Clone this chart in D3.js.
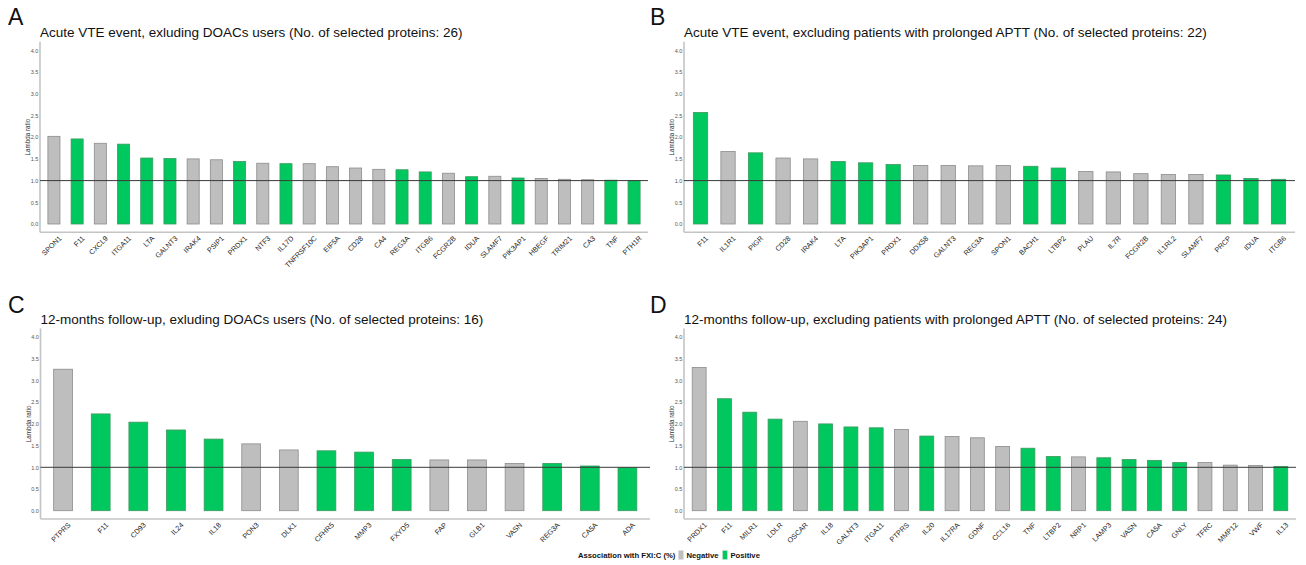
<!DOCTYPE html>
<html>
<head>
<meta charset="utf-8">
<script src="https://cdn.jsdelivr.net/npm/d3@7"></script>
<style>
  html, body { margin: 0; padding: 0; background: #fff; }
  svg { display: block; font-family: "Liberation Sans", Arial, sans-serif; }
</style>
</head>
<body>
<svg id="chart" width="1306" height="565"></svg>
<script>
// Panel A: acute VTE event, DOACs users excluded
const genesA = ["SPON1","F11","CXCL9","ITGA11","LTA","GALNT3","IRAK4","PSIP1","PRDX1","NTF3","IL17D","TNFRSF10C","EIF5A","CD28","CA4","REG3A","ITGB6","FCGR2B","IDUA","SLAMF7","PIK3AP1","HBEGF","TRIM21","CA3","TNF","PTH1R"];
const valuesA = [2.02,1.96,1.86,1.84,1.52,1.51,1.50,1.48,1.44,1.40,1.39,1.39,1.32,1.29,1.26,1.25,1.20,1.17,1.09,1.10,1.06,1.05,1.03,1.02,1.01,1.00];
const assocA = ["N","P","N","P","P","P","N","N","P","N","P","N","N","N","N","P","P","N","P","N","P","N","N","N","P","P"];

// Panel B: acute VTE event, prolonged APTT excluded
const genesB = ["F11","IL1R1","PIGR","CD28","IRAK4","LTA","PIK3AP1","PRDX1","DDX58","GALNT3","REG3A","SPON1","BACH1","LTBP2","PLAU","IL7R","FCGR2B","IL1RL2","SLAMF7","PRCP","IDUA","ITGB6"];
const valuesB = [2.57,1.67,1.64,1.52,1.50,1.44,1.41,1.37,1.35,1.35,1.34,1.35,1.33,1.29,1.21,1.20,1.16,1.14,1.14,1.13,1.05,1.03];
const assocB = ["P","N","P","N","N","P","P","P","N","N","N","N","P","P","N","N","N","N","N","P","P","P"];

// Panel C: 12-month follow-up, DOACs users excluded
const genesC = ["PTPRS","F11","CD93","IL24","IL18","PON3","DLK1","CFHR5","MMP3","FXYD5","FAP","GLB1","VASN","REG3A","CA5A","ADA"];
const valuesC = [3.26,2.23,2.04,1.86,1.65,1.54,1.40,1.38,1.35,1.18,1.17,1.17,1.09,1.09,1.03,0.99];
const assocC = ["N","P","P","P","P","N","N","P","P","P","N","N","N","P","P","P"];

// Panel D: 12-month follow-up, prolonged APTT excluded
const genesD = ["PRDX1","F11","MILR1","LDLR","OSCAR","IL18","GALNT3","ITGA11","PTPRS","IL20","IL17RA","GDNF","CCL16","TNF","LTBP2","NRP1","LAMP3","VASN","CA5A","GNLY","TFRC","MMP12","VWF","IL13"];
const valuesD = [3.30,2.58,2.27,2.11,2.06,2.00,1.93,1.91,1.87,1.72,1.71,1.68,1.48,1.44,1.25,1.24,1.22,1.18,1.16,1.11,1.11,1.05,1.04,1.02];
const assocD = ["N","P","P","P","N","P","P","P","N","P","N","N","N","P","P","N","P","P","P","P","N","N","N","P"];

const yTicks = [0.0, 0.5, 1.0, 1.5, 2.0, 2.5, 3.0, 3.5, 4.0];
const legendTitle = "Association with FXI:C (%)";
const legendKeys = [{key: "N", label: "Negative"}, {key: "P", label: "Positive"}];

const fillColor = {N: "#bebebe", P: "#00c85f"};
const strokeColor = {N: "#8c8c8c", P: "#3c9a5e"};

const panels = [
  {letter: "A", title: "Acute VTE event, exluding DOACs users (No. of selected proteins: 26)",
   genes: genesA, values: valuesA, assoc: assocA, x0: 40, x1: 648, y0: 224, barW: 0.52, letterX: 8, letterY: 25, titleY: 37},
  {letter: "B", title: "Acute VTE event, excluding patients with prolonged APTT (No. of selected proteins: 22)",
   genes: genesB, values: valuesB, assoc: assocB, x0: 684, x1: 1295, y0: 224, barW: 0.52, letterX: 650, letterY: 25, titleY: 37},
  {letter: "C", title: "12-months follow-up, exluding DOACs users (No. of selected proteins: 16)",
   genes: genesC, values: valuesC, assoc: assocC, x0: 40.5, x1: 650, y0: 510.7, barW: 0.5, letterX: 8, letterY: 313, titleY: 324},
  {letter: "D", title: "12-months follow-up, excluding patients with prolonged APTT (No. of selected proteins: 24)",
   genes: genesD, values: valuesD, assoc: assocD, x0: 684, x1: 1296, y0: 510.7, barW: 0.55, letterX: 650, letterY: 313, titleY: 324}
];

const svg = d3.select("#chart");
const unit = 43.4; // pixels per lambda-ratio unit

panels.forEach(p => {
  const g = svg.append("g");
  const n = p.genes.length;
  // discrete axis with 0.6-step expansion on each side
  const step = (p.x1 - p.x0) / (n - 1 + 1.2);
  const x = d3.scalePoint().domain(p.genes)
    .range([p.x0 + 0.6 * step, p.x1 - 0.6 * step]);
  const y = d3.scaleLinear().domain([0, 4]).range([p.y0, p.y0 - 4 * unit]);
  const bw = step * p.barW;

  // panel letter and title
  g.append("text").attr("x", p.letterX).attr("y", p.letterY)
    .attr("font-size", 23).attr("fill", "#111").text(p.letter);
  g.append("text").attr("x", p.x0).attr("y", p.titleY)
    .attr("font-size", 13.5).attr("fill", "#111").text(p.title);

  // axis lines
  g.append("line").attr("x1", p.x0).attr("x2", p.x0)
    .attr("y1", y(4.2)).attr("y2", y(-0.19))
    .attr("stroke", "#c4c4c4").attr("stroke-width", 1.6);
  g.append("line").attr("x1", p.x0).attr("x2", p.x1)
    .attr("y1", y(-0.19)).attr("y2", y(-0.19))
    .attr("stroke", "#c4c4c4").attr("stroke-width", 1.6);

  // y axis labels
  const yAxis = d3.axisLeft(y).tickValues(yTicks).tickFormat(d3.format(".1f")).tickSize(0).tickPadding(1.2);
  const ya = g.append("g").attr("transform", `translate(${p.x0 - 0.5},0)`).call(yAxis);
  ya.select(".domain").remove();
  ya.selectAll("text").attr("font-size", 5.5).attr("fill", "#555")
    .attr("font-family", "'Liberation Sans', Arial, sans-serif");

  g.append("text")
    .attr("transform", `translate(${p.x0 - 10},${y(2)}) rotate(-90)`)
    .attr("text-anchor", "middle").attr("font-size", 6.3).attr("fill", "#333")
    .text("Lambda ratio");

  // bars
  g.selectAll("rect.bar").data(p.genes).join("rect")
    .attr("class", "bar")
    .attr("x", d => x(d) - bw / 2)
    .attr("width", bw)
    .attr("y", (d, i) => y(p.values[i]))
    .attr("height", (d, i) => y(0) - y(p.values[i]))
    .attr("fill", (d, i) => fillColor[p.assoc[i]])
    .attr("stroke", (d, i) => strokeColor[p.assoc[i]])
    .attr("stroke-width", 0.8);

  // reference line at lambda ratio 1
  g.append("line").attr("x1", p.x0).attr("x2", p.x1)
    .attr("y1", y(1)).attr("y2", y(1))
    .attr("stroke", "#3a3a3a").attr("stroke-width", 1);

  // x axis labels
  const xAxis = d3.axisBottom(x).tickSize(0).tickPadding(0);
  const xa = g.append("g").attr("transform", `translate(0,${y(-0.19) + 3})`).call(xAxis);
  xa.select(".domain").remove();
  xa.selectAll("text")
    .attr("font-size", 7.2).attr("fill", "#222")
    .attr("font-family", "'Liberation Sans', Arial, sans-serif")
    .attr("text-anchor", "end")
    .attr("dy", "0.7em").attr("dx", "0")
    .attr("transform", "translate(4,0) rotate(-45)");
});

// legend
const lg = svg.append("g").attr("transform", "translate(578,558)");
const lt = lg.append("text").attr("x", 0).attr("y", 0)
  .attr("font-size", 7.7).attr("font-weight", "bold").attr("fill", "#111").text(legendTitle);
let lx = lt.node().getComputedTextLength() + 3;
legendKeys.forEach(k => {
  lg.append("rect").attr("x", lx).attr("y", -7.5).attr("width", 5).attr("height", 9)
    .attr("fill", fillColor[k.key]).attr("stroke", "#ddd").attr("stroke-width", 0.5);
  const t = lg.append("text").attr("x", lx + 8).attr("y", 0)
    .attr("font-size", 7.7).attr("font-weight", "bold").attr("fill", "#111").text(k.label);
  lx += 8 + t.node().getComputedTextLength() + 4;
});
</script>
</body>
</html>
